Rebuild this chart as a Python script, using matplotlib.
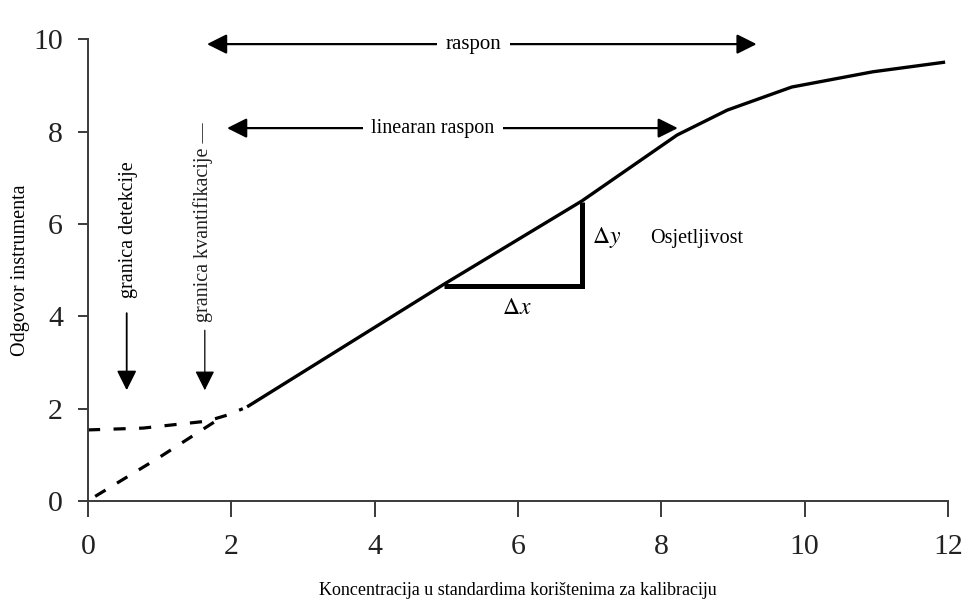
import matplotlib
matplotlib.use("Agg")
import matplotlib.pyplot as plt

plt.rcParams['font.family'] = ['Liberation Serif', 'DejaVu Serif']
plt.rcParams['mathtext.fontset'] = 'stix'

# --- data ---
solid_x = [2.22, 4.97, 6.89, 8.22, 8.92, 9.82, 10.95, 11.96]
solid_y = [2.04, 4.70, 6.50, 7.93, 8.47, 8.97, 9.30, 9.51]
upper_dash_x = [0.0, 0.77, 1.24, 1.66, 1.94, 2.16]
upper_dash_y = [1.54, 1.58, 1.66, 1.73, 1.86, 2.00]
lower_dash_x = [0.10, 1.00, 1.80]
lower_dash_y = [0.10, 0.95, 1.75]
x_ticks = [0, 2, 4, 6, 8, 10, 12]
y_ticks = [0, 2, 4, 6, 8, 10]
x_label = "Koncentracija u standardima korištenima za kalibraciju"
y_label = "Odgovor instrumenta"
range_span = [1.66, 9.33]
range_level = 9.9
linear_span = [1.94, 8.23]
linear_level = 8.08
lod_x = 0.54
loq_x = 1.63
tri_x = [4.97, 6.89]
tri_y = [4.66, 6.48]

fig = plt.figure(figsize=(9.71, 6.04), dpi=100)
ax = fig.add_axes([88/971, 1-501/604, (948-88)/971, (501-39.5)/604])

ax.plot(solid_x, solid_y, color='black', lw=2.4, solid_capstyle='butt')
ax.plot(upper_dash_x, upper_dash_y, color='black', lw=2.3, linestyle=(0, (3.8, 4.2)))
ax.plot(lower_dash_x, lower_dash_y, color='black', lw=2.3, linestyle=(0, (3.8, 4.2)))

ax.set_xlim(0, 12)
ax.set_ylim(0, 10)
ax.set_xticks(x_ticks)
ax.set_yticks(y_ticks)
for s in ['top', 'right']:
    ax.spines[s].set_visible(False)
for s in ['left', 'bottom']:
    ax.spines[s].set_color('#3a3a3a')
    ax.spines[s].set_linewidth(1.4)
ax.tick_params(axis='x', direction='out', length=11.5, width=1.4, color='#3a3a3a',
               pad=12, labelsize=21.5, labelcolor='#222222')
ax.tick_params(axis='y', direction='out', length=7, width=1.4, color='#3a3a3a',
               pad=11, labelsize=21.5, labelcolor='#222222')

ax.set_xlabel(x_label, fontsize=13)
ax.xaxis.set_label_coords(0.5, -0.175)
ax.set_ylabel(y_label, fontsize=14.5)
ax.yaxis.set_label_coords(-0.068, 0.5)

# horizontal double arrows
arrow_kw = dict(arrowstyle='<|-|>,head_length=0.8,head_width=0.4', color='black',
                lw=1.6, shrinkA=0, shrinkB=0, mutation_scale=15)
ax.annotate('', xy=(range_span[0], range_level), xytext=(range_span[1], range_level),
            arrowprops=arrow_kw, annotation_clip=False)
ax.annotate('', xy=(linear_span[0], linear_level), xytext=(linear_span[1], linear_level),
            arrowprops=arrow_kw, annotation_clip=False)
ax.text(5.38, range_level, 'raspon', fontsize=15, ha='center', va='center',
        bbox=dict(facecolor='white', edgecolor='none', pad=6), clip_on=False)
ax.text(4.81, linear_level, 'linearan raspon', fontsize=14.5, ha='center', va='center',
        bbox=dict(facecolor='white', edgecolor='none', pad=6), clip_on=False)

# vertical labels and down arrows
ax.text(0.56, 5.89, 'granica detekcije', fontsize=14.5, rotation=90,
        ha='center', va='center')
ax.text(1.60, 6.05, 'granica kvantifikacije —', fontsize=14.5, rotation=90,
        ha='center', va='center', color='#222222')
down_kw = dict(arrowstyle='-|>,head_length=0.8,head_width=0.4', color='black',
               lw=1.3, shrinkA=0, shrinkB=0, mutation_scale=15)
ax.annotate('', xy=(lod_x, 2.4), xytext=(lod_x, 4.07), arrowprops=down_kw)
down_kw2 = dict(down_kw)
down_kw2['lw'] = 0.9
ax.annotate('', xy=(loq_x, 2.4), xytext=(loq_x, 3.7), arrowprops=down_kw2)

# sensitivity triangle
ax.plot([tri_x[0], tri_x[1], tri_x[1]], [tri_y[0], tri_y[0], tri_y[1]],
        color='black', lw=3.6, solid_capstyle='butt', solid_joinstyle='miter')
ax.text(7.24, 5.72, r'$\Delta y$', fontsize=17, ha='center', va='center')
ax.text(5.99, 4.18, r'$\Delta x$', fontsize=17, ha='center', va='center')
ax.text(7.84, 5.68, 'Osjetljivost', fontsize=14.5, ha='left', va='center')

fig.savefig('out.png', dpi=100)
